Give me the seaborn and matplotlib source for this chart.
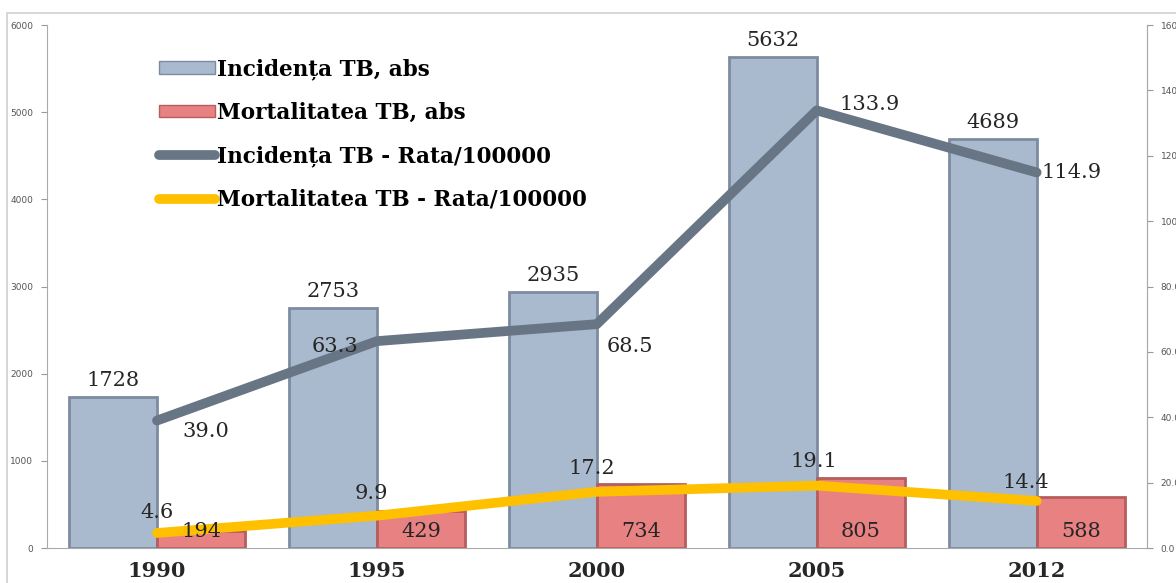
import numpy as np
import pandas as pd
import matplotlib.pyplot as plt
import seaborn as sns
from matplotlib.lines import Line2D
from matplotlib.patches import Patch, Rectangle

# data
years = ['1990', '1995', '2000', '2005', '2012']
incid_abs = [1728, 2753, 2935, 5632, 4689]
mort_abs = [194, 429, 734, 805, 588]
incid_rate = [39.0, 63.3, 68.5, 133.9, 114.9]
mort_rate = [4.6, 9.9, 17.2, 19.1, 14.4]

lbl_inc = 'Incidența TB, abs'
lbl_mort = 'Mortalitatea TB, abs'
lbl_inc_r = 'Incidența TB - Rata/100000'
lbl_mort_r = 'Mortalitatea TB - Rata/100000'

sns.set_style('white')
plt.rcParams['font.family'] = ['DejaVu Serif', 'Liberation Serif']

df = pd.DataFrame({
    'an': years * 2,
    'val': incid_abs + mort_abs,
    'serie': [lbl_inc] * 5 + [lbl_mort] * 5,
})

fig = plt.figure(figsize=(11.76, 5.83), dpi=100)
ax = fig.add_axes([0.040, 0.06, 0.935, 0.897])

# light frame around chart area
fig.patches.append(Rectangle((0.006, -0.02), 1.2, 0.998, transform=fig.transFigure,
                             fill=False, edgecolor='#d0d0d0', lw=1.2, zorder=0))

blue = '#a9b9ce'
red = '#e88282'
sns.barplot(data=df, x='an', y='val', hue='serie', palette=[blue, red], saturation=1,
            width=0.8, gap=0, ax=ax, legend=False, edgecolor='#7d8ba1', linewidth=2)
for bar in ax.patches[5:]:
    bar.set_edgecolor('#b65d5d')

ax.set_ylim(0, 6000)
ax.set_xlim(-0.5, 4.5)
ax.set_yticks(range(0, 6001, 1000))
ax.set_yticklabels([str(v) for v in range(0, 6001, 1000)], fontsize=6.5,
                   color='#555555', family='DejaVu Sans')
ax.set_xlabel('')
ax.set_ylabel('')
ax.set_xticks(range(5))
ax.set_xticklabels(years, fontsize=15, fontweight='bold')
ax.set_xticks(np.arange(-0.5, 5, 1), minor=True)
ax.tick_params(axis='x', which='major', length=0, pad=9)
ax.tick_params(axis='x', which='minor', length=5, color='#999999')
ax.tick_params(axis='y', length=4, color='#999999', left=True, pad=6)
ax.spines['top'].set_visible(False)
for s in ['left', 'right', 'bottom']:
    ax.spines[s].set_color('#aaaaaa')

ax2 = ax.twinx()
xs = np.arange(5)
sns.lineplot(x=xs, y=incid_rate, ax=ax2, color='#687585', lw=7, solid_capstyle='round')
sns.lineplot(x=xs, y=mort_rate, ax=ax2, color='#ffc000', lw=7, solid_capstyle='round')
ax2.set_ylim(0, 160)
ax2.set_yticks(range(0, 161, 20))
ax2.set_yticklabels([f'{v:.1f}' for v in range(0, 161, 20)], fontsize=6.5,
                    color='#555555', family='DejaVu Sans')
ax2.tick_params(axis='y', length=4, color='#999999', right=True, pad=6)
for s in ['top', 'left', 'bottom']:
    ax2.spines[s].set_visible(False)
ax2.spines['right'].set_color('#aaaaaa')

# bar value labels (placed on ax2 so they sit above the lines)
for i, v in enumerate(incid_abs):
    ax2.annotate(str(v), (i - 0.2, v), xycoords=ax.transData, xytext=(0, 5),
                 textcoords='offset points', ha='center', va='bottom', fontsize=15)
for i, v in enumerate(mort_abs):
    ax2.annotate(str(v), (i + 0.2, 0), xycoords=ax.transData, xytext=(0, 5),
                 textcoords='offset points', ha='center', va='bottom', fontsize=15)

inc_off = [(35, -8), (-30, -4), (24, -16), (38, 4), (25, 0)]
for i, v in enumerate(incid_rate):
    ax2.annotate(f'{v:.1f}', (i, v), xytext=inc_off[i], textcoords='offset points',
                 ha='center', va='center', fontsize=15)
mort_off = [(0, 15), (-4, 16), (-4, 17), (-2, 17), (-8, 13)]
for i, v in enumerate(mort_rate):
    ax2.annotate(f'{v:.1f}', (i, v), xytext=mort_off[i], textcoords='offset points',
                 ha='center', va='center', fontsize=15)

handles = [
    Patch(facecolor=blue, edgecolor='#7d8ba1'),
    Patch(facecolor=red, edgecolor='#b65d5d'),
    Line2D([], [], color='#687585', lw=7, solid_capstyle='round'),
    Line2D([], [], color='#ffc000', lw=7, solid_capstyle='round'),
]
leg = ax2.legend(handles, [lbl_inc, lbl_mort, lbl_inc_r, lbl_mort_r],
                 loc='upper left', bbox_to_anchor=(0.084, 0.974), frameon=False,
                 prop={'weight': 'bold', 'size': 15.5}, handlelength=2.6,
                 handleheight=0.5, handletextpad=0.1, labelspacing=1.0)
for t in leg.get_texts():
    t.set_color('black')

fig.savefig('out.png', dpi=100)
